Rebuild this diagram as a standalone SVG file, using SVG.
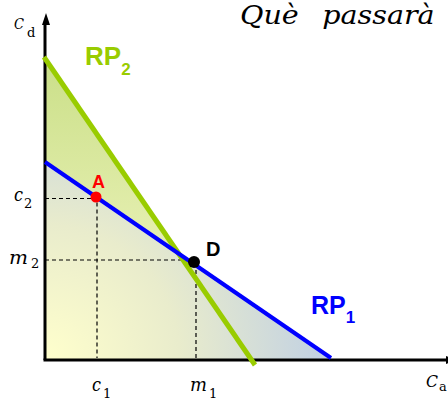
<svg xmlns="http://www.w3.org/2000/svg" width="448" height="400" viewBox="0 0 448 400">
<defs>
<linearGradient id="gGreen" x1="0" y1="57" x2="0" y2="300" gradientUnits="userSpaceOnUse">
<stop offset="0" stop-color="#cadf88"/>
<stop offset="1" stop-color="#eef4bd"/>
</linearGradient>
<radialGradient id="gBlue" cx="45" cy="360" r="300" gradientUnits="userSpaceOnUse">
<stop offset="0" stop-color="#ffffcc"/>
<stop offset="0.45" stop-color="#e9eccc"/>
<stop offset="1" stop-color="#bccde6"/>
</radialGradient>
<style>
.ax{stroke:#000;stroke-width:3;fill:none}
.dash{stroke:#000;stroke-width:1.2;stroke-dasharray:4 3;fill:none}
.it{font-family:'DejaVu Serif',serif;font-style:italic;fill:#000}
.up{font-family:'DejaVu Serif',serif;fill:#000}
.lbl{font-family:'Liberation Sans',Arial,sans-serif;font-weight:bold}
</style>
</defs>
<rect width="448" height="400" fill="#fff"/>
<g id="title">
<text class="it" font-size="26" transform="translate(240,24) scale(1.1,1)">Què <tspan dx="13">passarà</tspan></text>
</g>
<g id="areas">
<polygon points="45,57 252,360 45,360" fill="url(#gGreen)"/>
<polygon points="45,162 331,358 331,360 45,360" fill="url(#gBlue)"/>
</g>
<g id="guides">
<path class="dash" d="M45,198.5H97V358"/>
<path class="dash" d="M45,260H196V358"/>
</g>
<g id="axes">
<path class="ax" d="M45,360V22"/>
<polygon points="46,13 42,25 50,25" fill="#000"/>
<path class="ax" d="M43.5,360H448"/>
<polygon points="456,360 446,356 446,364" fill="#000"/>
</g>
<g id="connectors">
<line id="rp2-line" x1="44" y1="57" x2="255" y2="365" stroke="#99cc00" stroke-width="5"/>
<line id="rp1-line" x1="45" y1="162" x2="331" y2="358" stroke="#0000ff" stroke-width="4"/>
</g>
<g id="pointA">
<circle cx="96" cy="197" r="5.5" fill="#ff0000"/>
<text class="lbl" x="92" y="188" font-size="18" fill="#ff0000">A</text>
</g>
<g id="pointD">
<circle cx="194" cy="262" r="6" fill="#000"/>
<text class="lbl" x="206" y="256" font-size="20" fill="#000">D</text>
</g>
<g id="RP2">
<text class="lbl" x="85" y="65" font-size="26" fill="#99cc00">RP<tspan font-size="17" dy="10">2</tspan></text>
</g>
<g id="RP1">
<text class="lbl" x="311" y="314" font-size="25" fill="#0000ff">RP<tspan font-size="17" dy="9">1</tspan></text>
</g>
<g id="axis-labels">
<text class="it" x="14" y="29" font-size="15" textLength="10" lengthAdjust="spacingAndGlyphs">C</text><text class="up" x="27" y="37" font-size="13">d</text>
<text class="it" x="426" y="387" font-size="17" textLength="12" lengthAdjust="spacingAndGlyphs">C</text><text class="up" x="439" y="391" font-size="13">a</text>
<text class="it" x="14" y="201" font-size="19" textLength="9" lengthAdjust="spacingAndGlyphs">c</text><text class="up" x="24" y="208" font-size="13">2</text>
<text class="it" x="9" y="264" font-size="19" textLength="19" lengthAdjust="spacingAndGlyphs">m</text><text class="up" x="31" y="268" font-size="13">2</text>
<text class="it" x="92" y="391" font-size="19" textLength="9" lengthAdjust="spacingAndGlyphs">c</text><text class="up" x="103" y="398" font-size="13">1</text>
<text class="it" x="190" y="391" font-size="19" textLength="17" lengthAdjust="spacingAndGlyphs">m</text><text class="up" x="209" y="398" font-size="13">1</text>
</g>
</svg>
